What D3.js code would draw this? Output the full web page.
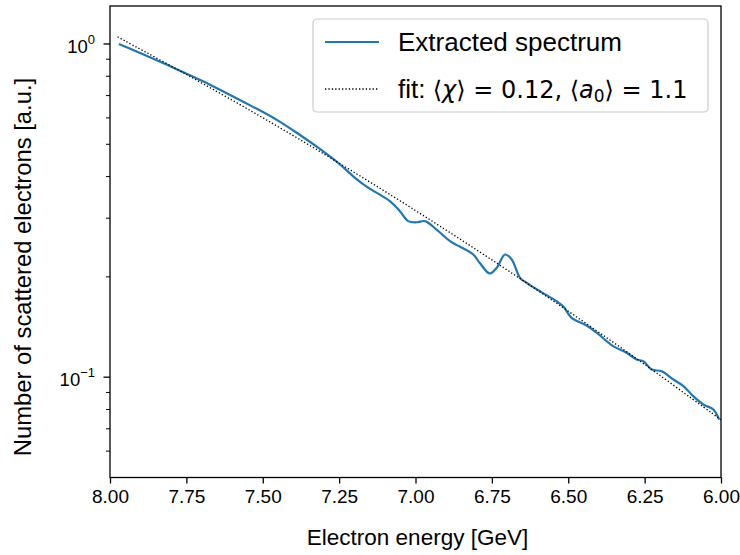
<!DOCTYPE html>
<html>
<head>
<meta charset="utf-8">
<script src="https://cdn.jsdelivr.net/npm/d3@7"></script>
<style>
  html, body { margin: 0; padding: 0; background: #fff; }
  svg { display: block; }
  text { font-family: "Liberation Sans", Arial, Helvetica, sans-serif; fill: #000; }
</style>
</head>
<body>
<svg id="chart" width="740" height="555"></svg>
<script>
// ---- Data ----
const spectrumEnergy = [7.971, 7.913, 7.869, 7.815, 7.673, 7.564, 7.454, 7.378, 7.313, 7.25, 7.20,
  7.160, 7.083, 7.051, 7.024, 6.996, 6.969, 6.931, 6.887, 6.811, 6.790, 6.757, 6.734, 6.707,
  6.685, 6.658, 6.636, 6.592, 6.538, 6.516, 6.489, 6.440, 6.407, 6.353, 6.309, 6.276, 6.254,
  6.227, 6.194, 6.156, 6.123, 6.091, 6.058, 6.025, 6.006];
const spectrumValue = [1.000, 0.950, 0.912, 0.867, 0.755, 0.671, 0.592, 0.533, 0.484, 0.437, 0.398,
  0.373, 0.337, 0.315, 0.294, 0.2917, 0.294, 0.2773, 0.256, 0.2334, 0.2204, 0.2047, 0.2130, 0.2334,
  0.2255, 0.1987, 0.192, 0.181, 0.169, 0.163, 0.1507, 0.1429, 0.136, 0.124, 0.1184, 0.113, 0.1117,
  0.1054, 0.1042, 0.0984, 0.094, 0.0877, 0.0828, 0.080, 0.0746];
const fitEnergy = [7.975, 7.75, 7.5, 7.25, 7.0, 6.75, 6.5, 6.25, 6.0];
const fitValue  = [1.050, 0.810, 0.6006, 0.4388, 0.3163, 0.2249, 0.1578, 0.1092, 0.0745];
const xTicks = [8.00, 7.75, 7.50, 7.25, 7.00, 6.75, 6.50, 6.25, 6.00];
const xDomain = [8.0, 6.0];
const yDomain = [0.05, 1.3];
const yMajorTicks = [1, 0.1];
const yMinorTicks = [0.06, 0.07, 0.08, 0.09, 0.2, 0.3, 0.4, 0.5, 0.6, 0.7, 0.8, 0.9];
const xLabel = "Electron energy [GeV]";
const yLabel = "Number of scattered electrons [a.u.]";

// ---- Layout ----
const m = { left: 110, top: 6, right: 721, bottom: 477.5 };
const svg = d3.select("#chart");

const x = d3.scaleLinear().domain(xDomain).range([m.left, m.right]);
const y = d3.scaleLog().domain(yDomain).range([m.bottom, m.top]);

const g = svg.append("g");

svg.append("defs").append("clipPath").attr("id", "clip")
  .append("rect").attr("x", m.left).attr("y", m.top)
  .attr("width", m.right - m.left).attr("height", m.bottom - m.top);

const spec = spectrumEnergy.map((e, i) => [e, spectrumValue[i]]);
const fit = fitEnergy.map((e, i) => [e, fitValue[i]]);

const line = d3.line().x(d => x(d[0])).y(d => y(d[1])).curve(d3.curveCatmullRom.alpha(0.5));

g.append("path").datum(spec).attr("clip-path", "url(#clip)")
  .attr("d", line).attr("fill", "none")
  .attr("stroke", "#1f77b4").attr("stroke-width", 2.2)
  .attr("stroke-linejoin", "round").attr("stroke-linecap", "butt");

g.append("path").datum(fit).attr("clip-path", "url(#clip)")
  .attr("d", line).attr("fill", "none")
  .attr("stroke", "#000").attr("stroke-width", 1.3)
  .attr("stroke-dasharray", "1.3,2.1");

// x axis
const xAxis = d3.axisBottom(x).tickValues(xTicks).tickFormat(d3.format(".2f"))
  .tickSizeOuter(0).tickSize(6).tickPadding(6);
const xg = svg.append("g").attr("transform", `translate(0,${m.bottom})`).call(xAxis);
xg.select(".domain").remove();
xg.selectAll(".tick line").attr("stroke", "#000").attr("stroke-width", 1.3);
xg.selectAll(".tick text").attr("font-size", 19).attr("font-family", "Liberation Sans, Arial, sans-serif");

// y major ticks
const yMaj = svg.append("g");
yMaj.selectAll("line").data(yMajorTicks).join("line")
  .attr("x1", m.left - 6.5).attr("x2", m.left).attr("y1", d => y(d)).attr("y2", d => y(d))
  .attr("stroke", "#000").attr("stroke-width", 1.3);
const yt = yMaj.selectAll("text").data(yMajorTicks).join("text")
  .attr("x", m.left - 15).attr("y", d => y(d) + 9)
  .attr("text-anchor", "end").attr("font-size", 18.5);
yt.append("tspan").text("10");
yt.append("tspan").attr("font-size", 13).attr("dy", -9)
  .text(d => d === 1 ? "0" : "\u22121");
svg.append("g").selectAll("line").data(yMinorTicks).join("line")
  .attr("x1", m.left - 4).attr("x2", m.left).attr("y1", d => y(d)).attr("y2", d => y(d))
  .attr("stroke", "#000").attr("stroke-width", 1);

// frame
svg.append("rect").attr("x", m.left).attr("y", m.top)
  .attr("width", m.right - m.left).attr("height", m.bottom - m.top)
  .attr("fill", "none").attr("stroke", "#000").attr("stroke-width", 1.3);

// axis labels
svg.append("text").attr("x", (m.left + m.right) / 2 + 2).attr("y", 545)
  .attr("text-anchor", "middle").attr("font-size", 22.5).text(xLabel);
svg.append("text").attr("transform", `translate(31,267) rotate(-90)`)
  .attr("text-anchor", "middle").attr("font-size", 23.8).text(yLabel);

// legend
const lg = svg.append("g");
lg.append("rect").attr("x", 313).attr("y", 19).attr("width", 395).attr("height", 93)
  .attr("rx", 4).attr("fill", "#fff").attr("fill-opacity", 0.8)
  .attr("stroke", "#cccccc").attr("stroke-width", 1.2);
lg.append("line").attr("x1", 325).attr("x2", 379).attr("y1", 42).attr("y2", 42)
  .attr("stroke", "#1f77b4").attr("stroke-width", 2.2);
lg.append("line").attr("x1", 325).attr("x2", 379).attr("y1", 89).attr("y2", 89)
  .attr("stroke", "#000").attr("stroke-width", 1.3).attr("stroke-dasharray", "1.3,2.1");
lg.append("text").attr("x", 398).attr("y", 51).attr("font-size", 26).text("Extracted spectrum");
const ft = lg.append("text").attr("x", 398).attr("y", 98).attr("font-size", 26);
ft.append("tspan").text("fit: ");
const dv = "DejaVu Sans";
ft.append("tspan").attr("font-family", dv).attr("font-size", 24).text("\u27E8");
ft.append("tspan").attr("font-family", dv).attr("font-size", 24).attr("font-style", "italic").text("\u03C7");
ft.append("tspan").attr("font-family", dv).attr("font-size", 24).text("\u27E9 = 0.12, \u27E8");
ft.append("tspan").attr("font-family", dv).attr("font-size", 24).attr("font-style", "italic").text("a");
ft.append("tspan").attr("font-family", dv).attr("font-size", 17).attr("dy", 4).text("0");
ft.append("tspan").attr("font-family", dv).attr("font-size", 24).attr("dy", -4).text("\u27E9 = 1.1");
</script>
</body>
</html>
